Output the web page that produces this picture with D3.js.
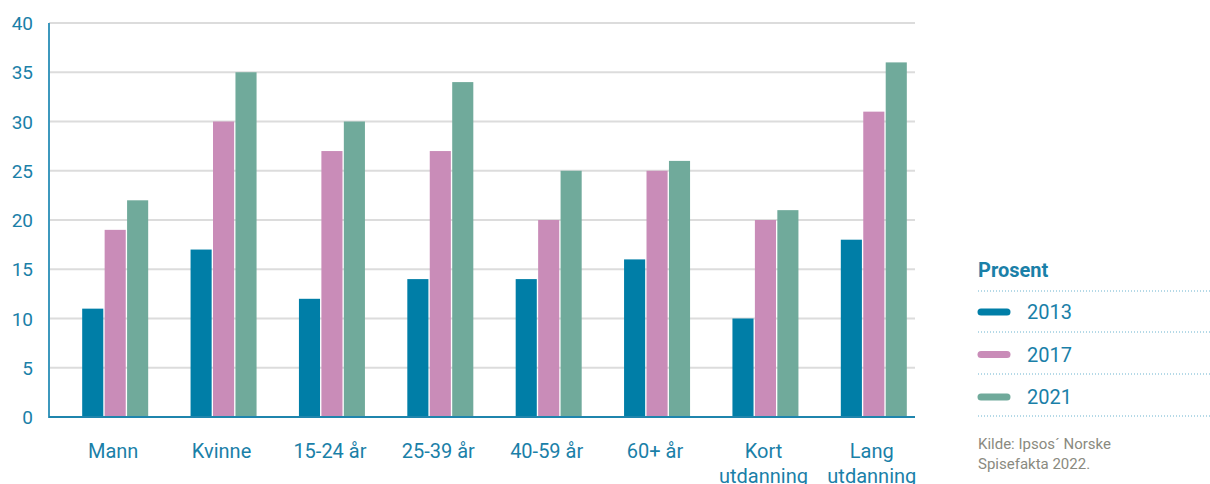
<!DOCTYPE html>
<html><head><meta charset="utf-8">
<script src="https://cdn.jsdelivr.net/npm/d3@7"></script>
<style>body{margin:0;background:#fff;font-family:Roboto,sans-serif;}</style>
</head><body><svg id="c" width="1210" height="484"></svg>
<script>
const categories = [["Mann"],["Kvinne"],["15-24 år"],["25-39 år"],["40-59 år"],["60+ år"],["Kort","utdanning"],["Lang","utdanning"]];
const series = ["2013","2017","2021"];
const v2013 = [11,17,12,14,14,16,10,18];
const v2017 = [19,30,27,27,20,25,20,31];
const v2021 = [22,35,30,34,25,26,21,36];
const yTicks = [0,5,10,15,20,25,30,35,40];
const colors = ["#007ea7","#c98cb8","#70aa9b"];
const values = [v2013,v2017,v2021];
const textBlue = "#1a80a8";

const svg = d3.select("#c");
const m = {l:49, r:915, t:23, b:417};
const x = d3.scaleBand().domain(d3.range(categories.length)).range([60,927]);
const xs = d3.scaleBand().domain(series).range([0,66]).paddingInner(0.06);
const y = d3.scaleLinear().domain([0,40]).range([m.b,m.t]);

// grid
svg.append("g").selectAll("line").data(yTicks.filter(d=>d>0)).join("line")
  .attr("x1",m.l).attr("x2",m.r).attr("y1",d=>y(d)).attr("y2",d=>y(d))
  .attr("stroke","#dcdcdc").attr("stroke-width",2);

// bars
const g = svg.append("g");
categories.forEach((c,i)=>{
  series.forEach((s,j)=>{
    const val = values[j][i];
    g.append("rect")
      .attr("x", x(i)+x.bandwidth()/2-32+xs(s))
      .attr("width", xs.bandwidth())
      .attr("y", y(val)).attr("height", y(0)-y(val))
      .attr("fill", colors[j]);
  });
});

// axes lines
svg.append("line").attr("x1",m.l).attr("x2",m.l).attr("y1",m.t).attr("y2",m.b+1).attr("stroke","#3d98bd").attr("stroke-width",2);
svg.append("line").attr("x1",m.l).attr("x2",m.r).attr("y1",m.b).attr("y2",m.b).attr("stroke","#1f85ad").attr("stroke-width",2);

// y labels
svg.append("g").selectAll("text").data(yTicks).join("text")
  .attr("x",33).attr("y",d=>y(d)+7).attr("text-anchor","end")
  .attr("font-size",19).attr("fill",textBlue).text(d=>d);

// x labels
const xl = svg.append("g");
categories.forEach((c,i)=>{
  const t = xl.append("text").attr("text-anchor","middle").attr("font-size",20).attr("fill",textBlue);
  c.forEach((line,k)=>{
    t.append("tspan").attr("x",x(i)+x.bandwidth()/2-1).attr("y",458+k*25).text(line);
  });
});

// legend
const lg = svg.append("g");
lg.append("text").attr("x",978).attr("y",277).attr("font-size",20).attr("font-weight","bold").attr("fill",textBlue).text("Prosent");
[291,332,374,416].forEach(yy=>{
  lg.append("line").attr("x1",978).attr("x2",1210).attr("y1",yy).attr("y2",yy)
    .attr("stroke","#6ab3cf").attr("stroke-width",1).attr("stroke-dasharray","1,2");
});
series.forEach((s,j)=>{
  const yy = 312 + j*42.5;
  lg.append("line").attr("x1",981).attr("x2",1007).attr("y1",yy).attr("y2",yy)
    .attr("stroke",colors[j]).attr("stroke-width",7).attr("stroke-linecap","round");
  lg.append("text").attr("x",1027).attr("y",yy+7).attr("font-size",20).attr("fill",textBlue).text(s);
});
lg.append("text").attr("x",978).attr("y",449).attr("font-size",15).attr("fill","#8a8a80").text("Kilde: Ipsos´ Norske");
lg.append("text").attr("x",978).attr("y",469).attr("font-size",15).attr("fill","#8a8a80").text("Spisefakta 2022.");
</script></body></html>
